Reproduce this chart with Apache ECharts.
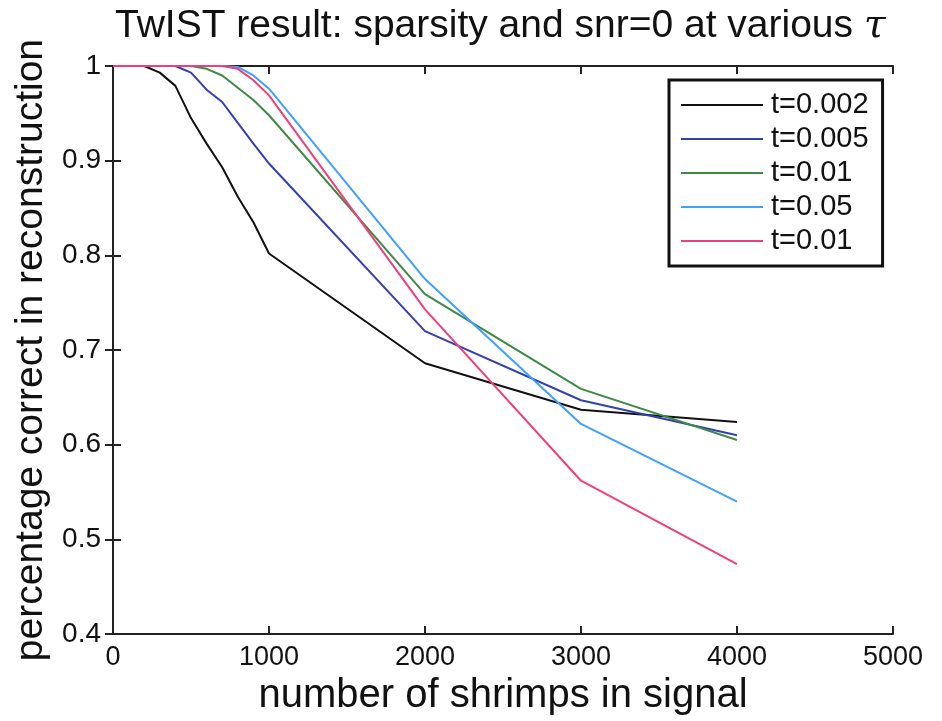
<!DOCTYPE html>
<html>
<head>
<meta charset="utf-8">
<script src="https://cdn.jsdelivr.net/npm/echarts@6/dist/echarts.min.js"></script>
<style>
html,body{margin:0;padding:0;background:#fff;}
#c{width:942px;height:721px;}
</style>
</head>
<body>
<div id="c"></div>
<script>
const xValues = [0, 100, 200, 300, 400, 500, 600, 700, 800, 900, 1000, 2000, 3000, 4000];
const seriesNames = ['t=0.002', 't=0.005', 't=0.01', 't=0.05', 't=0.01 '];
const t0002 = [1, 1, 1, 0.993, 0.979, 0.945, 0.918, 0.893, 0.862, 0.835, 0.802, 0.686, 0.637, 0.624];
const t0005 = [1, 1, 1, 1, 1, 0.993, 0.975, 0.962, 0.940, 0.918, 0.897, 0.720, 0.647, 0.610];
const t001a = [1, 1, 1, 1, 1, 1, 0.997, 0.990, 0.977, 0.964, 0.948, 0.759, 0.659, 0.605];
const t005  = [1, 1, 1, 1, 1, 1, 1, 1, 0.999, 0.990, 0.976, 0.775, 0.622, 0.540];
const t001b = [1, 1, 1, 1, 1, 1, 1, 1, 0.997, 0.985, 0.969, 0.743, 0.562, 0.474];
const colors = ['#111111', '#3340b0', '#3d8a45', '#3fa0ff', '#f0407a'];
const yTicks = [0.4, 0.5, 0.6, 0.7, 0.8, 0.9, 1];
const xTicks = [0, 1000, 2000, 3000, 4000, 5000];

const allData = [t0002, t0005, t001a, t005, t001b];
const chart = echarts.init(document.getElementById('c'));
const font = 'Liberation Sans, Arial, Helvetica, sans-serif';
const axisCommon = {
  axisLine: {show: true, lineStyle: {color: '#222', width: 2}},
  axisTick: {show: true, inside: true, length: 8, lineStyle: {color: '#222', width: 2}},
  splitLine: {show: false}
};
chart.setOption({
  animation: false,
  backgroundColor: '#fff',
  title: {
    text: 'TwIST result: sparsity and snr=0 at various {tau|τ}',
    left: 110, top: 2,
    textStyle: {
      fontFamily: font, fontSize: 39, fontWeight: 'normal', color: '#111',
      rich: {tau: {fontFamily: 'DejaVu Serif, serif', fontStyle: 'italic', fontSize: 39, color: '#111'}}
    }
  },
  grid: {left: 113, right: 49, top: 66, bottom: 85},
  legend: {
    orient: 'vertical', left: 669, top: 80,
    data: seriesNames,
    formatter: n => n.trim(),
    borderColor: '#111', borderWidth: 3, backgroundColor: '#fff',
    padding: [10, 14, 10, 12],
    itemWidth: 82, itemHeight: 14, itemGap: 4,
    textStyle: {fontFamily: font, fontSize: 29, color: '#111', lineHeight: 30, padding: [0, 0, 0, 3]},
    icon: 'path://M0,6 L82,6 L82,8 L0,8 Z'
  },
  xAxis: [
    Object.assign({
      type: 'value', min: 0, max: 5000, interval: 1000, position: 'bottom',
      name: 'number of shrimps in signal', nameLocation: 'middle', nameGap: 37,
      nameTextStyle: {fontFamily: font, fontSize: 40, color: '#111'},
      axisLabel: {fontFamily: font, fontSize: 27, color: '#111', margin: 10,
        formatter: v => String(v)}
    }, axisCommon),
    Object.assign({
      type: 'value', min: 0, max: 5000, interval: 1000, position: 'top',
      axisLabel: {show: false}
    }, axisCommon)
  ],
  yAxis: [
    Object.assign({
      type: 'value', min: 0.4, max: 1, interval: 0.1, position: 'left',
      name: 'percentage correct in reconstruction', nameLocation: 'middle', nameGap: 61,
      nameTextStyle: {fontFamily: font, fontSize: 39, color: '#111'},
      axisLabel: {fontFamily: font, fontSize: 28, color: '#111', margin: 12,
        formatter: v => { const r = Math.round(v * 10) / 10; return r === 1 ? '1' : r.toFixed(1); }}
    }, axisCommon),
    Object.assign({
      type: 'value', min: 0.4, max: 1, interval: 0.1, position: 'right',
      axisLabel: {show: false}
    }, axisCommon)
  ],
  series: seriesNames.map((name, i) => ({
    name: name,
    type: 'line',
    xAxisIndex: 0, yAxisIndex: 0,
    symbol: 'none',
    color: colors[i],
    lineStyle: {width: 2, color: colors[i]},
    data: xValues.map((x, j) => [x, allData[i][j]])
  }))
});
</script>
</body>
</html>
